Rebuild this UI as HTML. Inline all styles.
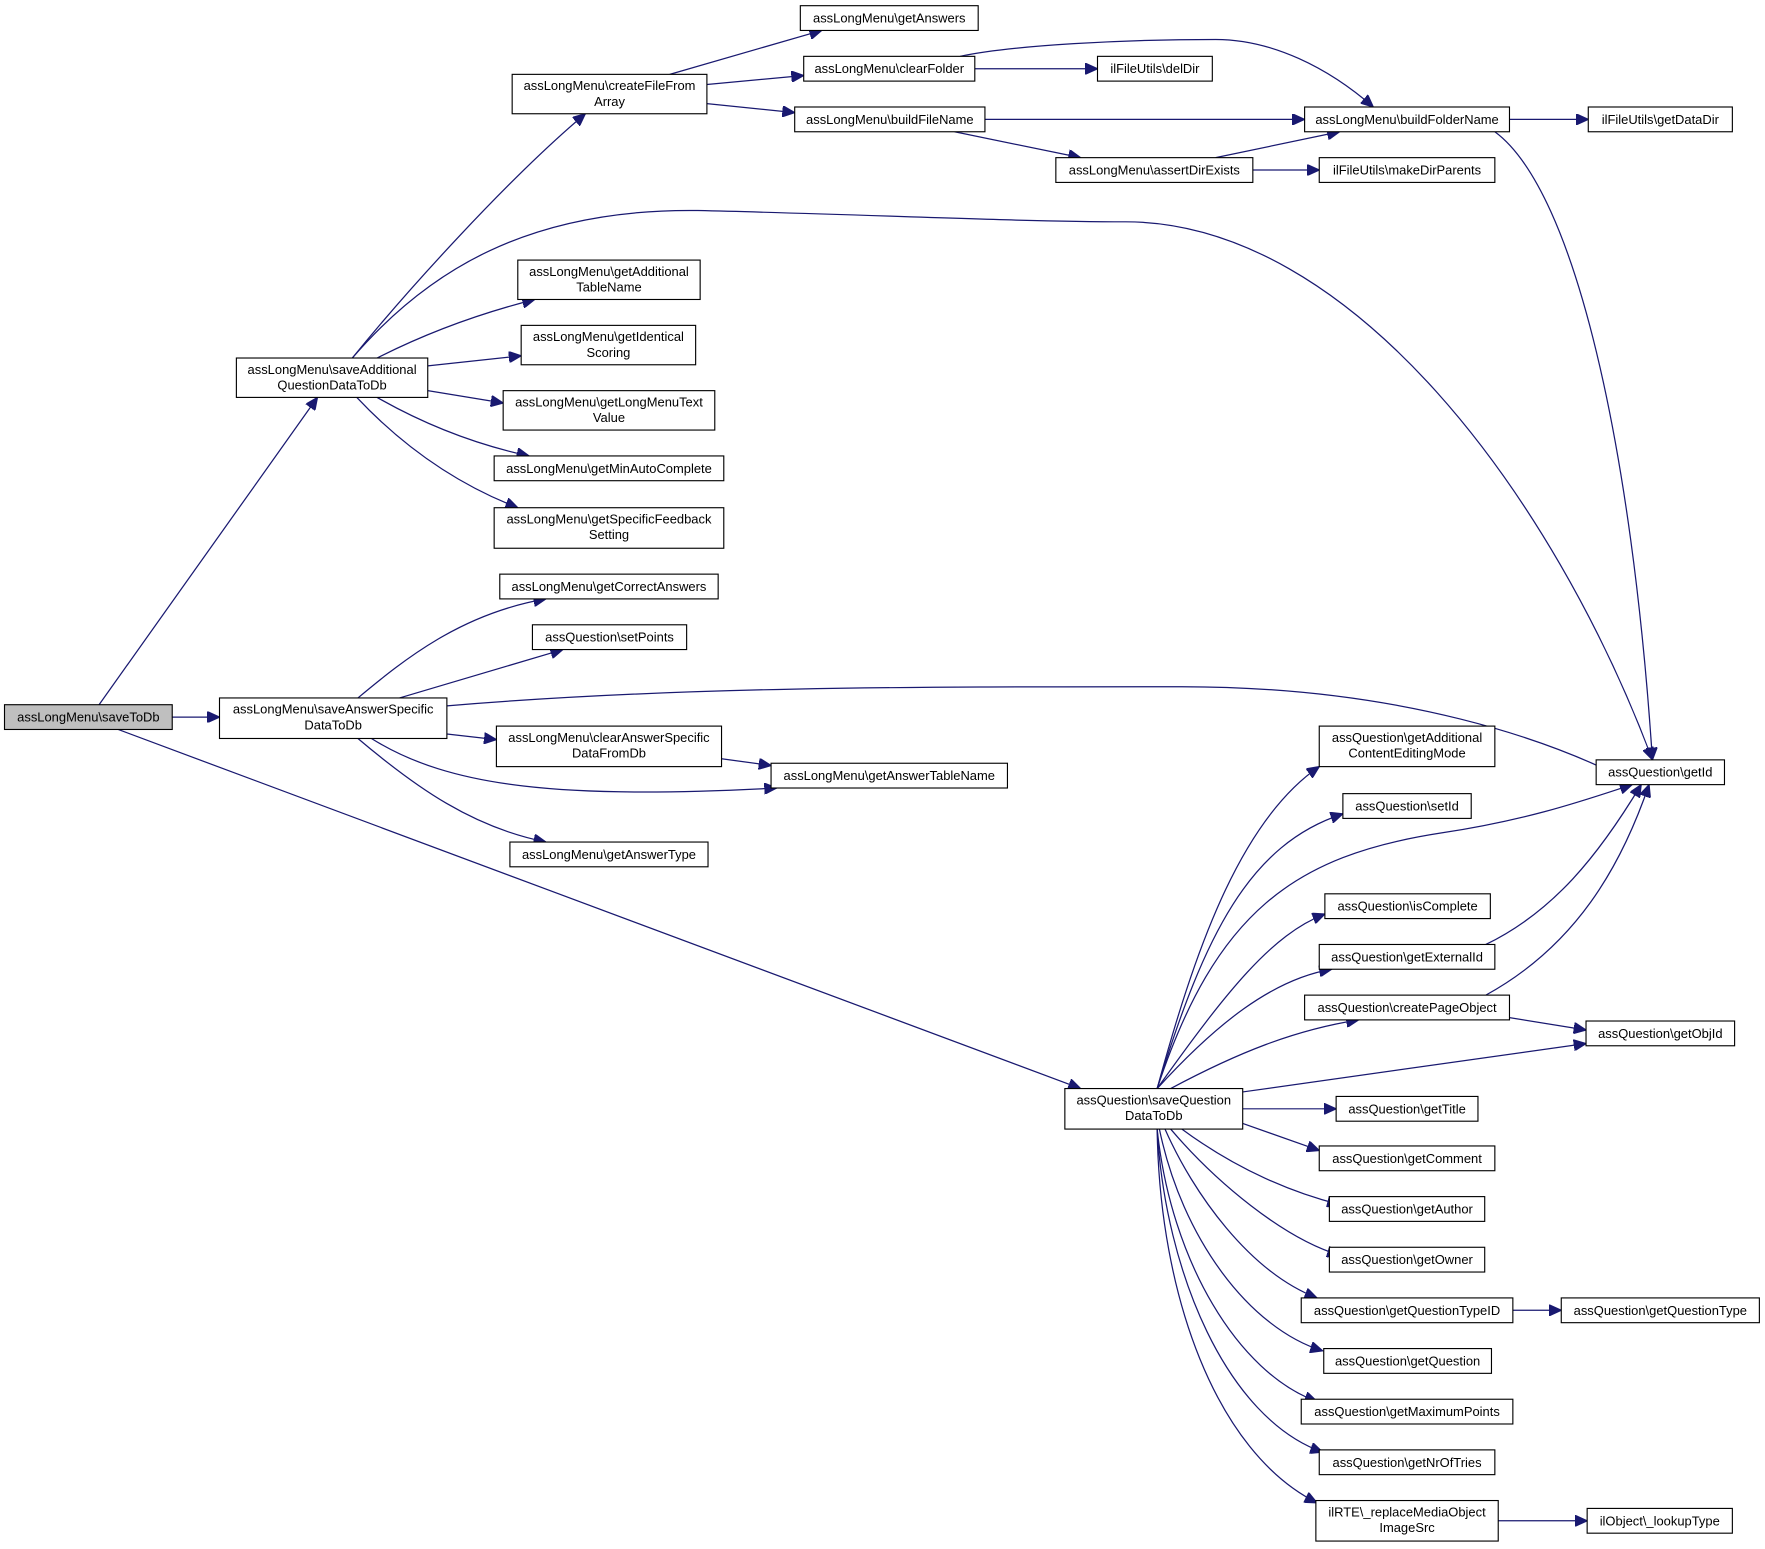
<!DOCTYPE html>
<html><head><meta charset="utf-8"><style>
html,body{margin:0;padding:0;background:#fff;}
svg{display:block}
text{font-family:"Liberation Sans",Arial,sans-serif;font-size:11.5px;fill:#000;text-anchor:middle}
rect{fill:#fff;stroke:#000;stroke-width:1}
path{fill:none;stroke:#191970;stroke-width:1.1}
</style></head><body>
<svg width="1765" height="1549" viewBox="0 0 1568 1376" xmlns="http://www.w3.org/2000/svg">
<defs><marker id="a" markerUnits="userSpaceOnUse" markerWidth="12" markerHeight="10" refX="11" refY="5" orient="auto"><path d="M0,0 L11,5 L0,10 Z" style="fill:#191970;stroke:#191970"/></marker></defs>
<g marker-end="url(#a)">
<path d="M88,626 L282,353"/>
<path d="M153,637 L195,637"/>
<path d="M105,648 L960,967"/>
<path d="M313,318 C360,260 450,160 520,101"/>
<path d="M313,318 C380,240 470,185 620,187 C760,190 900,197 1000,197 C1200,197 1380,440 1468,675"/>
<path d="M335,318 Q400,285 475,266"/>
<path d="M380,325 L463,316"/>
<path d="M380,347 L447,358"/>
<path d="M335,353 Q400,390 470,405"/>
<path d="M317,353 Q380,420 460,451"/>
<path d="M595,66 L730,27"/>
<path d="M628,75 L714,67"/>
<path d="M628,92 L706,100"/>
<path d="M853,50 C900,40 1000,35 1080,35 C1130,35 1180,60 1220,95"/>
<path d="M866,61 L975,61"/>
<path d="M875,106 L1159,106"/>
<path d="M848,117 L960,140"/>
<path d="M1341,106 L1411,106"/>
<path d="M1328,117 C1400,170 1450,400 1468,675"/>
<path d="M1080,140 L1190,117"/>
<path d="M1113,151 L1172,151"/>
<path d="M318,620 C360,585 410,545 485,532"/>
<path d="M355,620 L500,577"/>
<path d="M397,627 C600,610 800,610 1050,610 C1250,610 1380,660 1440,690"/>
<path d="M397,652 L441,657"/>
<path d="M330,656 C400,700 500,710 690,700"/>
<path d="M641,674 L685,680"/>
<path d="M318,656 C370,700 420,735 485,748"/>
<path d="M1028,967 C1060,850 1100,730 1172,681"/>
<path d="M1028,967 C1070,830 1110,750 1193,723"/>
<path d="M1028,967 C1080,810 1150,760 1280,740 C1360,728 1410,710 1450,697"/>
<path d="M1028,967 C1090,880 1130,830 1177,812"/>
<path d="M1028,967 C1080,910 1130,870 1183,861"/>
<path d="M1040,967 C1100,935 1150,915 1207,906"/>
<path d="M1320,839 C1380,810 1420,760 1458,697"/>
<path d="M1320,884 C1400,840 1440,770 1465,697"/>
<path d="M1341,904 L1409,915"/>
<path d="M1104,970 L1409,927"/>
<path d="M1104,985 L1187,985"/>
<path d="M1104,998 L1172,1022"/>
<path d="M1050,1003 C1100,1040 1150,1060 1190,1070"/>
<path d="M1040,1003 C1080,1050 1140,1100 1190,1115"/>
<path d="M1035,1003 C1060,1060 1110,1130 1170,1153"/>
<path d="M1030,1003 C1050,1100 1110,1180 1175,1200"/>
<path d="M1028,1003 C1040,1120 1100,1220 1170,1245"/>
<path d="M1028,1003 C1035,1130 1090,1260 1175,1290"/>
<path d="M1028,1003 C1030,1150 1080,1290 1170,1335"/>
<path d="M1344,1164 L1387,1164"/>
<path d="M1331,1351 L1410,1351"/>
</g>
<rect x="4" y="626" width="149" height="22" style="fill:#bfbfbf"/><text x="78.5" y="641">assLongMenu\saveToDb</text>
<rect x="210" y="318" width="170" height="35"/><text x="295" y="332">assLongMenu\saveAdditional</text><text x="295" y="346">QuestionDataToDb</text>
<rect x="455" y="66" width="173" height="35"/><text x="541.5" y="80">assLongMenu\createFileFrom</text><text x="541.5" y="94">Array</text>
<rect x="711" y="5" width="158" height="22"/><text x="790" y="20">assLongMenu\getAnswers</text>
<rect x="714" y="50" width="152" height="22"/><text x="790" y="65">assLongMenu\clearFolder</text>
<rect x="706" y="95" width="169" height="22"/><text x="790.5" y="110">assLongMenu\buildFileName</text>
<rect x="975" y="50" width="102" height="22"/><text x="1026" y="65">ilFileUtils\delDir</text>
<rect x="1159" y="95" width="182" height="22"/><text x="1250" y="110">assLongMenu\buildFolderName</text>
<rect x="1411" y="95" width="128" height="22"/><text x="1475" y="110">ilFileUtils\getDataDir</text>
<rect x="938" y="140" width="175" height="22"/><text x="1025.5" y="155">assLongMenu\assertDirExists</text>
<rect x="1172" y="140" width="156" height="22"/><text x="1250" y="155">ilFileUtils\makeDirParents</text>
<rect x="460" y="231" width="162" height="35"/><text x="541" y="245">assLongMenu\getAdditional</text><text x="541" y="259">TableName</text>
<rect x="463" y="289" width="155" height="35"/><text x="540.5" y="303">assLongMenu\getIdentical</text><text x="540.5" y="317">Scoring</text>
<rect x="447" y="347" width="188" height="35"/><text x="541" y="361">assLongMenu\getLongMenuText</text><text x="541" y="375">Value</text>
<rect x="439" y="405" width="204" height="22"/><text x="541" y="420">assLongMenu\getMinAutoComplete</text>
<rect x="439" y="451" width="204" height="36"/><text x="541" y="465">assLongMenu\getSpecificFeedback</text><text x="541" y="479">Setting</text>
<rect x="444" y="510" width="194" height="22"/><text x="541" y="525">assLongMenu\getCorrectAnswers</text>
<rect x="473" y="555" width="137" height="22"/><text x="541.5" y="570">assQuestion\setPoints</text>
<rect x="195" y="620" width="202" height="36"/><text x="296" y="634">assLongMenu\saveAnswerSpecific</text><text x="296" y="648">DataToDb</text>
<rect x="441" y="645" width="200" height="36"/><text x="541" y="659">assLongMenu\clearAnswerSpecific</text><text x="541" y="673">DataFromDb</text>
<rect x="685" y="678" width="210" height="22"/><text x="790" y="693">assLongMenu\getAnswerTableName</text>
<rect x="453" y="748" width="176" height="22"/><text x="541" y="763">assLongMenu\getAnswerType</text>
<rect x="1418" y="675" width="114" height="22"/><text x="1475" y="690">assQuestion\getId</text>
<rect x="1172" y="645" width="156" height="36"/><text x="1250" y="659">assQuestion\getAdditional</text><text x="1250" y="673">ContentEditingMode</text>
<rect x="1193" y="705" width="114" height="22"/><text x="1250" y="720">assQuestion\setId</text>
<rect x="1177" y="794" width="147" height="22"/><text x="1250.5" y="809">assQuestion\isComplete</text>
<rect x="1172" y="839" width="156" height="22"/><text x="1250" y="854">assQuestion\getExternalId</text>
<rect x="1159" y="884" width="182" height="22"/><text x="1250" y="899">assQuestion\createPageObject</text>
<rect x="1409" y="907" width="132" height="22"/><text x="1475" y="922">assQuestion\getObjId</text>
<rect x="946" y="967" width="158" height="36"/><text x="1025" y="981">assQuestion\saveQuestion</text><text x="1025" y="995">DataToDb</text>
<rect x="1187" y="974" width="126" height="22"/><text x="1250" y="989">assQuestion\getTitle</text>
<rect x="1172" y="1018" width="156" height="22"/><text x="1250" y="1033">assQuestion\getComment</text>
<rect x="1181" y="1063" width="138" height="22"/><text x="1250" y="1078">assQuestion\getAuthor</text>
<rect x="1181" y="1108" width="138" height="22"/><text x="1250" y="1123">assQuestion\getOwner</text>
<rect x="1156" y="1153" width="188" height="22"/><text x="1250" y="1168">assQuestion\getQuestionTypeID</text>
<rect x="1387" y="1153" width="176" height="22"/><text x="1475" y="1168">assQuestion\getQuestionType</text>
<rect x="1176" y="1198" width="149" height="22"/><text x="1250.5" y="1213">assQuestion\getQuestion</text>
<rect x="1156" y="1243" width="188" height="22"/><text x="1250" y="1258">assQuestion\getMaximumPoints</text>
<rect x="1172" y="1288" width="156" height="22"/><text x="1250" y="1303">assQuestion\getNrOfTries</text>
<rect x="1169" y="1333" width="162" height="36"/><text x="1250" y="1347">ilRTE\_replaceMediaObject</text><text x="1250" y="1361">ImageSrc</text>
<rect x="1410" y="1340" width="129" height="22"/><text x="1474.5" y="1355">ilObject\_lookupType</text>
</svg>
</body></html>
